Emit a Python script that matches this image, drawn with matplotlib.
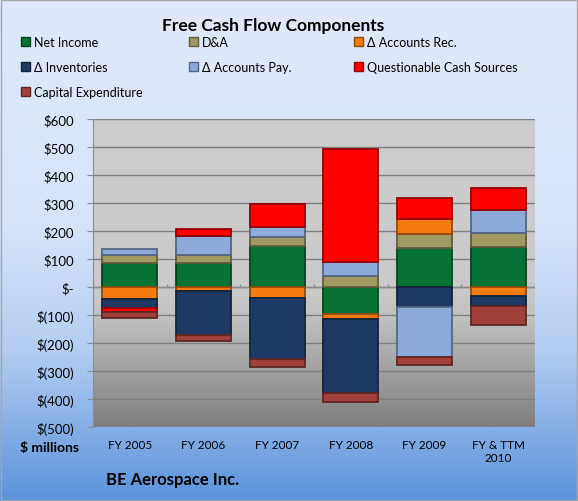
import numpy as np
import matplotlib.pyplot as plt
from matplotlib.colors import LinearSegmentedColormap, to_rgb
from matplotlib.patches import Patch

# data, $ millions
years = ["FY 2005", "FY 2006", "FY 2007", "FY 2008", "FY 2009", "FY & TTM\n2010"]
net_income = [86, 86, 146, -95, 139, 143]
dna = [27, 30, 34, 41, 51, 51]
accounts_rec = [-44, -15, -39, -21, 54, -33]
inventories = [-30, -155, -217, -262, -71, -35]
accounts_pay = [24, 65, 33, 48, -179, 82]
questionable = [-17, 25, 85, 404, 73, 77]
capex = [-18, -24, -30, -32, -30, -69]

series = [
    ("Net Income", net_income, "#077234"),
    ("D&A", dna, "#a09a62"),
    ("\u0394 Accounts Rec.", accounts_rec, "#f47a12"),
    ("\u0394 Inventories", inventories, "#1e3a64"),
    ("\u0394 Accounts Pay.", accounts_pay, "#8eaadb"),
    ("Questionable Cash Sources", questionable, "#ff0000"),
    ("Capital Expenditure", capex, "#a0403d"),
]

yticks = [600, 500, 400, 300, 200, 100, 0, -100, -200, -300, -400, -500]
ylabels = ["$600", "$500", "$400", "$300", "$200", "$100", "$-",
           "$(100)", "$(200)", "$(300)", "$(400)", "$(500)"]

plt.rcParams["font.family"] = ["Lato", "DejaVu Sans"]


def darker(color, f=0.6):
    r, g, b = to_rgb(color)
    return (r * f, g * f, b * f)


fig = plt.figure(figsize=(5.78, 5.02), dpi=100)

# figure background gradient
bg = fig.add_axes([0, 0, 1, 1], zorder=-10)
bg_cmap = LinearSegmentedColormap.from_list(
    "bg", [(0, "#dfe9fb"), (0.45, "#d6e3f9"), (0.7, "#b4cdf1"), (1.0, "#5a93dc")]
)
bg.imshow(np.linspace(0, 1, 256).reshape(-1, 1), cmap=bg_cmap, aspect="auto",
          extent=[0, 1, 0, 1])
bg.set_xlim(0, 1)
bg.set_ylim(0, 1)
bg.axis("off")
fig.patches.append(plt.Rectangle((0.002, 0.002), 0.996, 0.996, transform=fig.transFigure,
                                 fill=False, edgecolor="#a6a6a6", linewidth=1))

ax = fig.add_axes([93 / 578, 1 - 428 / 502, 442 / 578, 308 / 502])
ax.set_ylim(-500, 600)
ax.set_xlim(-0.5, len(years) - 0.5)

# plot area gradient
pa_cmap = LinearSegmentedColormap.from_list(
    "pa", [(0, "#cdcdcd"), (0.55, "#cacaca"), (0.65, "#c0c0c0"), (1.0, "#7f7f7f")]
)
ax.imshow(np.linspace(0, 1, 256).reshape(-1, 1), cmap=pa_cmap, aspect="auto",
          extent=[-0.5, len(years) - 0.5, -500, 600], zorder=0)

ax.set_yticks(yticks)
ax.set_yticklabels(ylabels, fontsize=9.5)
ax.grid(axis="y", color="#7f7f7f", linewidth=1, zorder=1)
ax.set_axisbelow(True)

x = np.arange(len(years))
pos_bottom = np.zeros(len(years))
neg_bottom = np.zeros(len(years))
for name, values, color in series:
    v = np.array(values, dtype=float)
    bottom = np.where(v >= 0, pos_bottom, neg_bottom)
    ax.bar(x, v, bottom=bottom, width=0.75, color=color,
           edgecolor=darker(color), linewidth=1.3, zorder=3)
    pos_bottom += np.clip(v, 0, None)
    neg_bottom += np.clip(v, None, 0)

# zero axis line with category divider ticks
ax.axhline(0, color="#8c8c8c", linewidth=1, zorder=2)
ax.vlines(np.arange(len(years) + 1) - 0.5, 0, 12, color="#8c8c8c", linewidth=1, zorder=2)

ax.set_xticks(x)
ax.set_xticklabels(years, fontsize=8.5)
ax.tick_params(axis="x", length=0, pad=9)
ax.tick_params(axis="y", length=4, color="#8c8c8c", pad=10)
for side in ["top", "right", "bottom"]:
    ax.spines[side].set_visible(False)
ax.spines["left"].set_color("#8c8c8c")

fig.text(273 / 578, 1 - 26 / 502, "Free Cash Flow Components", ha="center", va="center",
         fontsize=12.5, fontweight="bold")
fig.text(50 / 578, 1 - 448 / 502, "$ millions", ha="center", va="center",
         fontsize=10, fontweight="bold")
fig.text(106 / 578, 1 - 480 / 502, "BE Aerospace Inc.", ha="left", va="center",
         fontsize=12, fontweight="bold")

# legend: three columns, row-major order
col_x = [21, 189, 354]
for col in range(3):
    items = series[col::3]
    handles = [Patch(facecolor=c, edgecolor=darker(c)) for _, _, c in items]
    labels = [n for n, _, _ in items]
    fig.legend(handles, labels, loc="upper left",
               bbox_to_anchor=(col_x[col] / 578, 1 - 37 / 502),
               frameon=False, fontsize=9, handlelength=0.75, handleheight=0.75,
               handletextpad=0.3, labelspacing=1.05, borderaxespad=0, borderpad=0)

fig.savefig("out.png", dpi=100)
